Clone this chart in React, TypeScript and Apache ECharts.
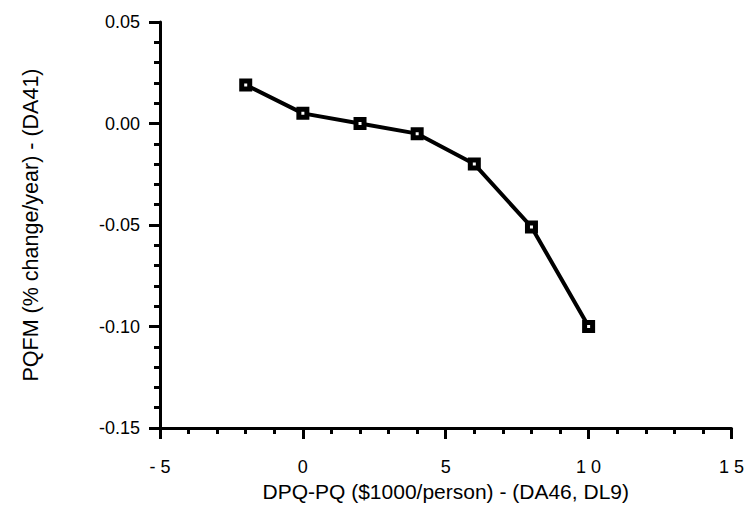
import React, { useEffect, useRef } from "react";
import * as echarts from "echarts";

const xValues = [-2, 0, 2, 4, 6, 8, 10];
const yValues = [0.019, 0.005, 0.0, -0.005, -0.02, -0.051, -0.1];
const xTickLabels: Record<string, string> = { "-5": "- 5", "0": "0", "5": "5", "10": "1 0", "15": "1 5" };
const yTickLabels = ["-0.15", "-0.10", "-0.05", "0.00", "0.05"];
const xTitle = "DPQ-PQ ($1000/person) - (DA46, DL9)";
const yTitle = "PQFM (% change/year) - (DA41)";

export default function App() {
  const ref = useRef<HTMLDivElement>(null);
  useEffect(() => {
    if (!ref.current) return;
    const chart = echarts.init(ref.current, null, { renderer: "svg" });
    const font = "'Liberation Sans', Arial, Helvetica, sans-serif";
    const axisCommon = {
      axisLine: { show: true, onZero: false, lineStyle: { color: "#000", width: 3 } },
      axisTick: { show: true, inside: false, length: 11, lineStyle: { color: "#000", width: 3 } },
      minorTick: { show: true, splitNumber: 5, length: 6, lineStyle: { color: "#000", width: 3 } },
      splitLine: { show: false },
      minorSplitLine: { show: false },
      nameLocation: "middle" as const,
    };
    chart.setOption({
      animation: false,
      backgroundColor: "#fff",
      grid: { left: 160, right: 14, top: 22, bottom: 87, containLabel: false },
      xAxis: {
        type: "value",
        min: -5,
        max: 15,
        interval: 5,
        ...axisCommon,
        name: xTitle,
        nameGap: 53,
        nameTextStyle: { fontFamily: font, fontSize: 21, color: "#000" },
        axisLabel: {
          margin: 30,
          fontFamily: font,
          fontSize: 18,
          color: "#000",
          formatter: (v: number) => xTickLabels[String(Math.round(v))] ?? String(v),
        },
      },
      yAxis: {
        type: "value",
        min: -0.15,
        max: 0.05,
        interval: 0.05,
        ...axisCommon,
        name: yTitle,
        nameGap: 118,
        nameRotate: 90,
        nameTextStyle: { fontFamily: font, fontSize: 21.5, color: "#000" },
        axisLabel: {
          margin: 20,
          fontFamily: font,
          fontSize: 18,
          color: "#000",
          formatter: (v: number) => {
            const idx = Math.round((v + 0.15) / 0.05);
            return yTickLabels[idx] ?? v.toFixed(2);
          },
        },
      },
      series: [
        {
          type: "line",
          data: xValues.map((x, i) => [x, yValues[i]]),
          symbol: "rect",
          symbolSize: 8,
          showSymbol: true,
          lineStyle: { color: "#000", width: 4 },
          itemStyle: { color: "#fff", borderColor: "#000", borderWidth: 5 },
          z: 3,
        },
      ],
    });
    return () => chart.dispose();
  }, []);
  return (
    <div
      ref={ref}
      style={{ position: "fixed", left: 0, top: 0, width: 747, height: 515, background: "#fff" }}
    />
  );
}
